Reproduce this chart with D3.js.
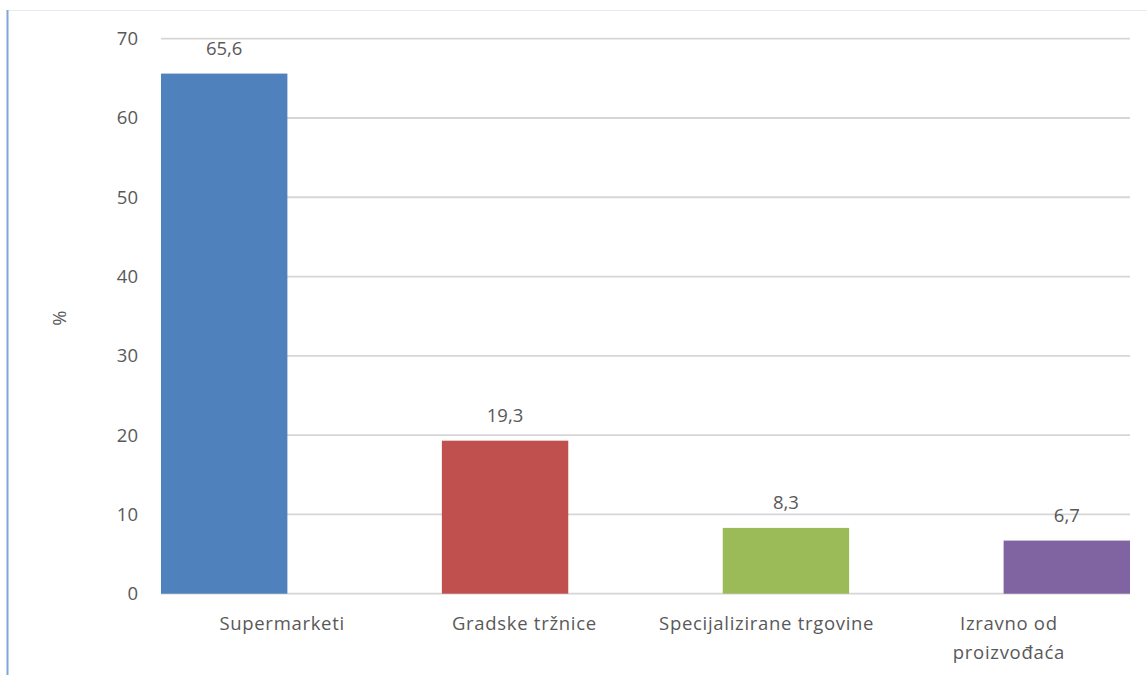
<!DOCTYPE html>
<html><head><meta charset="utf-8">
<script src="https://cdn.jsdelivr.net/npm/d3@7"></script>
<style>body{margin:0;background:#fff}svg{display:block}text{font-family:"Open Sans",sans-serif;fill:#595959}</style>
</head><body>
<svg id="c" width="1147" height="675"></svg>
<script>
const categories = ["Supermarketi", "Gradske tržnice", "Specijalizirane trgovine", ["Izravno od", "proizvođaća"]];
const values = [65.6, 19.3, 8.3, 6.7];
const valueLabels = ["65,6", "19,3", "8,3", "6,7"];
const colors = ["#4f81bd", "#c0504d", "#9bbb59", "#8064a2"];
const yTicks = [0, 10, 20, 30, 40, 50, 60, 70];
const yTitle = "%";

const svg = d3.select("#c");
const pLeft = 161, pRight = 1130, pTop = 38.7, pBottom = 593.7;
const y = d3.scaleLinear().domain([0, 70]).range([pBottom, pTop]);
const idx = d3.range(values.length);
const xBar = d3.scaleBand().domain(idx).range([pLeft, pRight]).paddingInner(0.55).paddingOuter(0);
const xCat = d3.scaleBand().domain(idx).range([pLeft, pRight]);
const fs = 18.5;

// frame lines
svg.append("line").attr("x1", 7).attr("x2", 1147).attr("y1", 10.5).attr("y2", 10.5).attr("stroke", "#e3ebf6").attr("stroke-width", 1);
svg.append("line").attr("x1", 7.5).attr("x2", 7.5).attr("y1", 10).attr("y2", 675).attr("stroke", "#7ea6d8").attr("stroke-width", 2);

// gridlines
svg.append("g").selectAll("line").data(yTicks).join("line")
  .attr("x1", pLeft).attr("x2", pRight)
  .attr("y1", d => y(d)).attr("y2", d => y(d))
  .attr("stroke", "#d6d6d6").attr("stroke-width", 1.8);

// y tick labels
svg.append("g").selectAll("text").data(yTicks).join("text")
  .attr("x", 138).attr("y", d => y(d)).attr("dy", "0.35em")
  .attr("text-anchor", "end").attr("font-size", fs).text(d => d);

// y title
svg.append("text").attr("transform", "translate(66,318) rotate(-90)")
  .attr("text-anchor", "middle").attr("font-size", fs).text(yTitle);

// bars
svg.append("g").selectAll("rect").data(idx).join("rect")
  .attr("x", i => xBar(i)).attr("width", xBar.bandwidth())
  .attr("y", i => y(values[i])).attr("height", i => y(0) - y(values[i]))
  .attr("fill", i => colors[i]);

// value labels
svg.append("g").selectAll("text").data(idx).join("text")
  .attr("x", i => xBar(i) + xBar.bandwidth() / 2)
  .attr("y", i => y(values[i]) - 18.5)
  .attr("text-anchor", "middle").attr("font-size", fs).text(i => valueLabels[i]);

// category labels
const cat = svg.append("g").selectAll("text").data(idx).join("text")
  .attr("x", i => xCat(i) + xCat.bandwidth() / 2)
  .attr("y", 630).attr("text-anchor", "middle").attr("font-size", fs)
  .attr("letter-spacing", "0.7px");
cat.each(function(i) {
  const lines = Array.isArray(categories[i]) ? categories[i] : [categories[i]];
  d3.select(this).selectAll("tspan").data(lines).join("tspan")
    .attr("x", xCat(i) + xCat.bandwidth() / 2)
    .attr("dy", (d, k) => k === 0 ? 0 : 29).text(d => d);
});
</script>
</body></html>
